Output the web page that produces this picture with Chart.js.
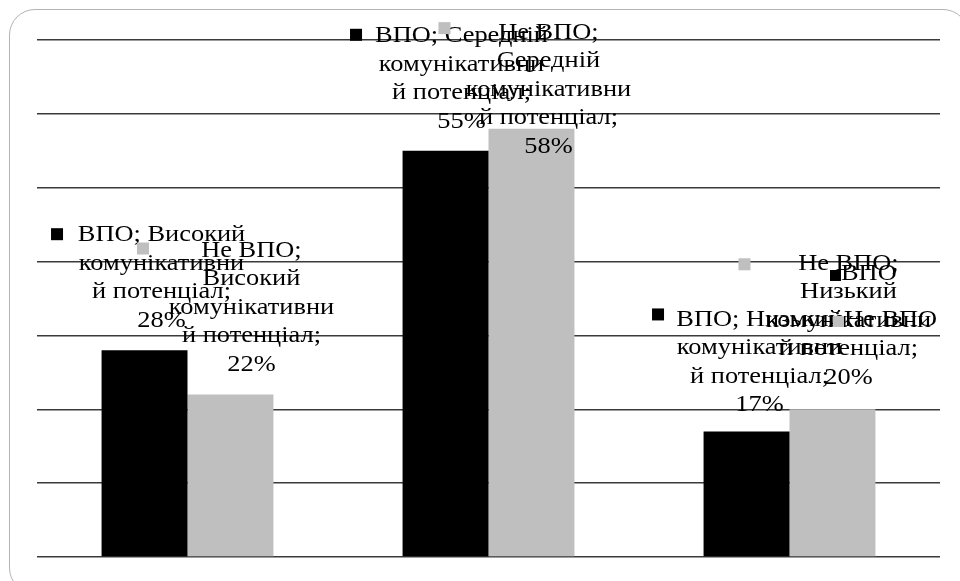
<!DOCTYPE html>
<html>
<head>
<meta charset="utf-8">
<script src="https://cdn.jsdelivr.net/npm/chart.js@4.4.1/dist/chart.umd.min.js"></script>
<style>
  html, body { margin: 0; padding: 0; background: #ffffff; overflow: hidden; }
  #wrap { position: relative; width: 960px; height: 581px; overflow: hidden; background: #fff; }
  #frame {
    position: absolute; left: 9px; top: 9px; width: 960px; height: 585px;
    border: 1.5px solid #b4b4b4; border-radius: 26px; box-sizing: border-box;
  }
  canvas { position: absolute; left: 0; top: 0; }
</style>
</head>
<body>
<div id="wrap">
  <div id="frame"></div>
  <canvas id="c" width="960" height="581"></canvas>
</div>
<script>
// Communicative potential levels
const categories = [
  'Високий комунікативний потенціал',
  'Середній комунікативний потенціал',
  'Низький комунікативний потенціал'
];
// Series (percent)
const seriesNames = ['ВПО', 'Не ВПО'];
const vpoValues = [28, 55, 17];
const nonVpoValues = [22, 58, 20];
const seriesColors = ['#000000', '#bfbfbf'];

// Label placement: [dx, dy] of first text line from bar top, [kx, ky] of the key square from that line
const labelOffsets = [
  [[17, -115, -104.5, -1], [16, -115, -105.5, -1], [13, -112, -101.5, -5]],
  [[21, -144, -108.5, -2], [17, -96, -104, -4.5], [16, -146, -104, 1]]
];

const FONT = '24px "Liberation Serif", "Times New Roman", serif';
const SX = 1.1;      // horizontal text stretch
const LH = 28.5;     // line height
const WRAP = 161;    // wrap width (unstretched px)

function wrapText(ctx, text, maxW) {
  const words = text.split(' ');
  const lines = [];
  let cur = '';
  for (const w of words) {
    const cand = cur ? cur + ' ' + w : w;
    if (ctx.measureText(cand).width <= maxW) { cur = cand; continue; }
    if (cur) lines.push(cur);
    cur = w;
    while (ctx.measureText(cur).width > maxW) {
      let k = cur.length - 1;
      while (k > 1 && ctx.measureText(cur.slice(0, k)).width > maxW) k--;
      lines.push(cur.slice(0, k));
      cur = cur.slice(k);
    }
  }
  if (cur) lines.push(cur);
  return lines;
}

function drawLine(ctx, s, cx, cy, align) {
  ctx.save();
  ctx.translate(cx, cy);
  ctx.scale(SX, 1);
  ctx.textAlign = align || 'center';
  ctx.textBaseline = 'middle';
  ctx.fillText(s, 0, 0);
  ctx.restore();
}

const labelPlugin = {
  id: 'barLabels',
  afterDatasetsDraw(chart) {
    const ctx = chart.ctx;
    ctx.save();
    ctx.font = FONT;
    chart.data.datasets.forEach((ds, di) => {
      const meta = chart.getDatasetMeta(di);
      meta.data.forEach((bar, i) => {
        const text = ds.label + '; ' + categories[i] + '; ' + ds.data[i] + '%';
        const lines = wrapText(ctx, text, WRAP);
        const o = labelOffsets[di][i];
        const cx = bar.x + o[0];
        const y1 = bar.y + o[1];
        ctx.fillStyle = ds.backgroundColor;
        ctx.fillRect(cx + o[2] - 6, y1 + o[3] - 6, 12, 12);
        ctx.fillStyle = '#000';
        lines.forEach((ln, k) => drawLine(ctx, ln, cx, y1 + k * LH));
      });
    });
    // legend entries at the right
    const a = chart.chartArea;
    const legendPos = [[a.right - 110, 276], [a.right - 107, 322]];
    chart.data.datasets.forEach((ds, di) => {
      const [lx, ly] = legendPos[di];
      ctx.fillStyle = ds.backgroundColor;
      ctx.fillRect(lx, ly - 6, 11, 11);
      ctx.fillStyle = '#000';
      drawLine(ctx, ds.label, lx + 11, ly - 2, 'left');
    });
    ctx.restore();
  }
};

new Chart(document.getElementById('c'), {
  type: 'bar',
  data: {
    labels: categories,
    datasets: [
      { label: seriesNames[0], data: vpoValues, backgroundColor: seriesColors[0] },
      { label: seriesNames[1], data: nonVpoValues, backgroundColor: seriesColors[1] }
    ]
  },
  options: {
    responsive: false,
    devicePixelRatio: 1,
    animation: false,
    layout: { padding: { left: 37, right: 20, top: 40, bottom: 24 } },
    datasets: { bar: { categoryPercentage: 0.571, barPercentage: 1.0, borderWidth: 0 } },
    plugins: { legend: { display: false }, tooltip: { enabled: false } },
    scales: {
      x: { display: false },
      y: {
        min: 0, max: 70,
        ticks: { display: false, stepSize: 10 },
        border: { display: false },
        grid: { color: '#3a3a3a', lineWidth: 1.5, drawTicks: false, tickLength: 0 }
      }
    }
  },
  plugins: [labelPlugin]
});
</script>
</body>
</html>
